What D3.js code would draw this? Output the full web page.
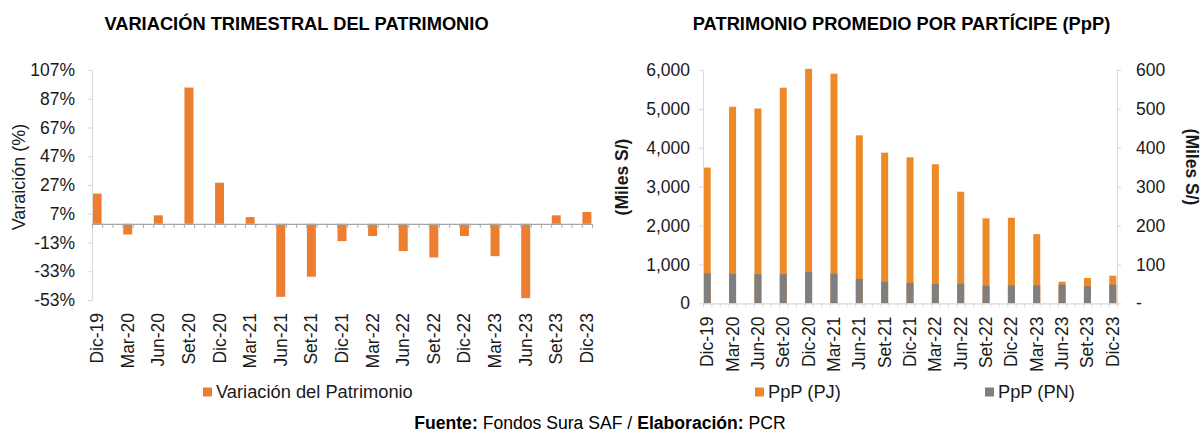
<!DOCTYPE html>
<html>
<head>
<meta charset="utf-8">
<script src="https://cdn.jsdelivr.net/npm/d3@7"></script>
<style>
  body { margin: 0; background: #fff; }
  svg { display: block; font-family: "Liberation Sans", Arial, sans-serif; }
</style>
</head>
<body>
<svg id="chart" width="1203" height="433"></svg>
<script>
// trimestres (eje de fechas mensual, barras al cierre de cada trimestre)
const quarters = ["Dic-19", "Mar-20", "Jun-20", "Set-20", "Dic-20", "Mar-21", "Jun-21", "Set-21",
                  "Dic-21", "Mar-22", "Jun-22", "Set-22", "Dic-22", "Mar-23", "Jun-23", "Set-23", "Dic-23"]

// variación trimestral del patrimonio (%)
const variacion = [21, -7.4, 5.9, 94.8, 28.6, 4.7, -50.8, -36.8, -12, -8.5, -19, -23.4, -8.5, -22.5, -51.7, 5.9, 8.2]

// patrimonio promedio por partícipe (miles S/)
const ppPJ = [3490, 5055, 5010, 5545, 6030, 5905, 4320, 3875, 3755, 3575, 2870, 2185, 2200, 1780, 555, 650, 710]
const ppPN = [77, 76, 75, 75, 80.5, 76, 63, 55.5, 52, 49.5, 50.5, 45.5, 46, 46, 48, 44, 48]

const leftTicks = [-53, -33, -13, 7, 27, 47, 67, 87, 107]
const rightTicks = [0, 1000, 2000, 3000, 4000, 5000, 6000]
const rightTicks2 = [0, 100, 200, 300, 400, 500, 600]

const svg = d3.select("#chart")
const nMonths = (quarters.length - 1) * 3 + 1
const months = d3.range(nMonths)
const txt = "#1a1a1a"

// ---------- gráfico izquierdo ----------
const xL = d3.scaleBand().domain(months).range([92, 592]).paddingInner(0.12).paddingOuter(0.06)
const xLb = d3.scaleLinear().domain([0, nMonths]).range([92, 592])
const yL = d3.scaleLinear().domain([-53, 107]).range([300, 70])

svg.append("g")
   .selectAll("rect")
   .data(variacion)
   .join("rect")
   .attr("x", (d, i) => xL(i * 3))
   .attr("width", xL.bandwidth())
   .attr("y", d => yL(Math.max(0, d)))
   .attr("height", d => Math.abs(yL(d) - yL(0)))
   .attr("fill", "#ED7D31")

const gyL = svg.append("g")
   .attr("transform", "translate(92,0)")
   .call(d3.axisLeft(yL).tickValues(leftTicks).tickSize(4).tickSizeOuter(0).tickPadding(13)
         .tickFormat(d => d + "%"))
gyL.select(".domain").attr("stroke", "#d9d9d9")
gyL.selectAll(".tick line").attr("stroke", "#d9d9d9")
gyL.selectAll(".tick text").attr("font-size", 17.5).attr("fill", txt).attr("font-family", null)

const gxL = svg.append("g")
   .attr("transform", `translate(0,${yL(0)})`)
   .call(d3.axisBottom(xLb).tickValues(d3.range(nMonths + 1)).tickSize(4).tickSizeOuter(0).tickFormat(""))
gxL.select(".domain").attr("stroke", "#a6a6a6").attr("stroke-width", 1.3)
gxL.selectAll(".tick line").attr("stroke", "#a6a6a6")

svg.append("g")
   .selectAll("text")
   .data(quarters)
   .join("text")
   .attr("transform", (d, i) => `translate(${xL(i * 3) + xL.bandwidth() / 2 + 6},313) rotate(-90)`)
   .attr("text-anchor", "end")
   .attr("font-size", 17.5)
   .attr("fill", txt)
   .text(d => d)

svg.append("text")
   .attr("transform", "translate(25,177) rotate(-90)")
   .attr("text-anchor", "middle")
   .attr("font-size", 18)
   .attr("fill", txt)
   .text("Varaición (%)")

svg.append("text")
   .attr("x", 296.5).attr("y", 30)
   .attr("text-anchor", "middle")
   .attr("font-size", 18.3).attr("font-weight", "bold")
   .attr("fill", "#000")
   .text("VARIACIÓN TRIMESTRAL DEL PATRIMONIO")

svg.append("rect").attr("x", 203).attr("y", 387.5).attr("width", 9).attr("height", 9).attr("fill", "#ED7D31")
svg.append("text").attr("x", 216).attr("y", 398).attr("font-size", 18.3).attr("fill", txt)
   .text("Variación del Patrimonio")

// ---------- gráfico derecho ----------
const xR = d3.scaleBand().domain(months).range([703, 1117]).paddingInner(0.17).paddingOuter(0.085)
const xRb = d3.scaleLinear().domain([0, nMonths]).range([703, 1117])
const yR = d3.scaleLinear().domain([0, 6000]).range([303.3, 70])
const yR2 = d3.scaleLinear().domain([0, 600]).range([303.3, 70])
const orange = "#EC8A28"
const gray = "#7F7F7F"

svg.append("g")
   .selectAll("rect")
   .data(ppPJ)
   .join("rect")
   .attr("x", (d, i) => xR(i * 3))
   .attr("width", xR.bandwidth())
   .attr("y", d => yR(d))
   .attr("height", d => yR(0) - yR(d))
   .attr("fill", orange)

svg.append("g")
   .selectAll("rect")
   .data(ppPN)
   .join("rect")
   .attr("x", (d, i) => xR(i * 3))
   .attr("width", xR.bandwidth())
   .attr("y", d => yR2(d))
   .attr("height", d => yR2(0) - yR2(d))
   .attr("fill", gray)

const gyR = svg.append("g")
   .attr("transform", "translate(703,0)")
   .call(d3.axisLeft(yR).tickValues(rightTicks).tickSize(4).tickSizeOuter(0).tickPadding(9)
         .tickFormat(d3.format(",")))
gyR.select(".domain").attr("stroke", "#d9d9d9")
gyR.selectAll(".tick line").attr("stroke", "#d9d9d9")
gyR.selectAll(".tick text").attr("font-size", 17.5).attr("fill", txt).attr("font-family", null)

const gyR2 = svg.append("g")
   .attr("transform", "translate(1117,0)")
   .call(d3.axisRight(yR2).tickValues(rightTicks2).tickSize(4).tickSizeOuter(0).tickPadding(15)
         .tickFormat(d => d === 0 ? "-" : d))
gyR2.select(".domain").attr("stroke", "#d9d9d9")
gyR2.selectAll(".tick line").attr("stroke", "#d9d9d9")
gyR2.selectAll(".tick text").attr("font-size", 17.5).attr("fill", txt).attr("font-family", null)

const gxR = svg.append("g")
   .attr("transform", `translate(0,${yR(0)})`)
   .call(d3.axisBottom(xRb).tickValues(d3.range(nMonths + 1)).tickSize(4).tickSizeOuter(0).tickFormat(""))
gxR.select(".domain").attr("stroke", "#d9d9d9").attr("stroke-width", 1.3)
gxR.selectAll(".tick line").attr("stroke", "#d9d9d9")

svg.append("g")
   .selectAll("text")
   .data(quarters)
   .join("text")
   .attr("transform", (d, i) => `translate(${xR(i * 3) + xR.bandwidth() / 2 + 6},316.5) rotate(-90)`)
   .attr("text-anchor", "end")
   .attr("font-size", 17.5)
   .attr("fill", txt)
   .text(d => d)

svg.append("text")
   .attr("transform", "translate(628,177) rotate(-90)")
   .attr("text-anchor", "middle")
   .attr("font-size", 17.5).attr("font-weight", "bold")
   .attr("fill", txt)
   .text("(Miles S/)")

svg.append("text")
   .attr("transform", "translate(1186,167) rotate(90)")
   .attr("text-anchor", "middle")
   .attr("font-size", 17.5).attr("font-weight", "bold")
   .attr("fill", txt)
   .text("(Miles S/)")

svg.append("text")
   .attr("x", 901.5).attr("y", 30)
   .attr("text-anchor", "middle")
   .attr("font-size", 18.3).attr("font-weight", "bold")
   .attr("fill", "#000")
   .text("PATRIMONIO PROMEDIO POR PARTÍCIPE (PpP)")

const legendR = [
  { label: "PpP (PJ)", color: orange, x: 755 },
  { label: "PpP (PN)", color: gray, x: 985 }
]
const lg = svg.append("g").selectAll("g").data(legendR).join("g")
lg.append("rect").attr("x", d => d.x).attr("y", 387.5).attr("width", 9).attr("height", 9).attr("fill", d => d.color)
lg.append("text").attr("x", d => d.x + 13).attr("y", 398).attr("font-size", 18.3).attr("fill", txt)
  .text(d => d.label)

// ---------- fuente ----------
const foot = svg.append("text")
   .attr("x", 600).attr("y", 429)
   .attr("text-anchor", "middle")
   .attr("font-size", 17.6)
   .attr("fill", "#000")
foot.append("tspan").attr("font-weight", "bold").text("Fuente:")
foot.append("tspan").text(" Fondos Sura SAF / ")
foot.append("tspan").attr("font-weight", "bold").text("Elaboración:")
foot.append("tspan").text(" PCR")
</script>
</body>
</html>
